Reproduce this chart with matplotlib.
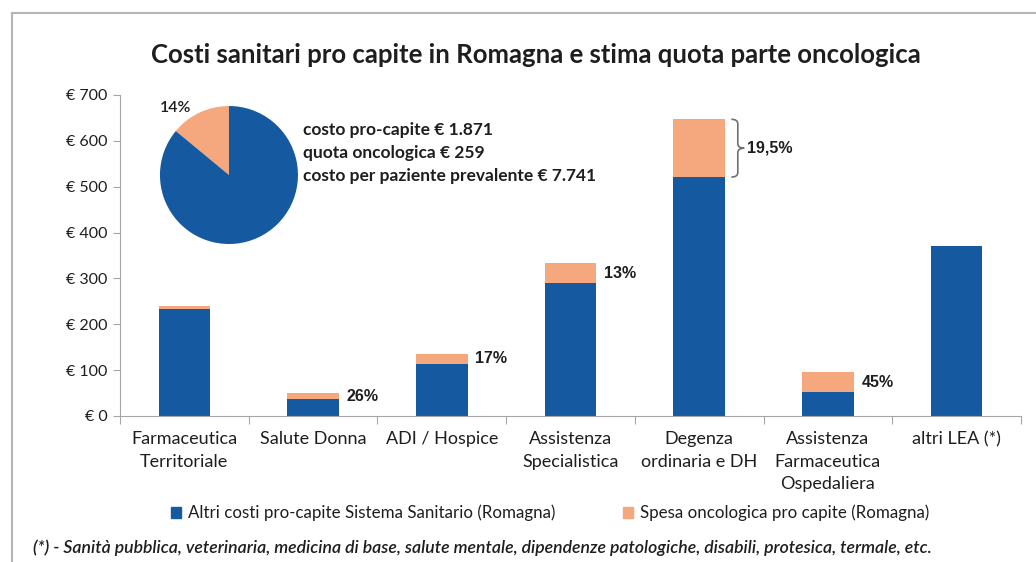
import numpy as np
import matplotlib
matplotlib.use("Agg")
import matplotlib.pyplot as plt
from matplotlib.path import Path
from matplotlib.patches import PathPatch, Patch
from matplotlib.lines import Line2D

plt.rcParams['font.family'] = ['Lato', 'DejaVu Sans']

categories = ['Farmaceutica\nTerritoriale', 'Salute Donna', 'ADI / Hospice',
              'Assistenza\nSpecialistica', 'Degenza\nordinaria e DH',
              'Assistenza\nFarmaceutica\nOspedaliera', 'altri LEA (*)']
altri_costi = [233, 37, 113, 290, 521, 52, 371]
spesa_onco = [6, 13, 23, 43, 126, 43, 0]
pct_labels = ['', '26%', '17%', '13%', '19,5%', '45%', '']
pie_values = [14, 86]
pie_label = '14%'
yticks = [0, 100, 200, 300, 400, 500, 600, 700]
info_lines = ['costo pro-capite € 1.871', 'quota oncologica € 259',
              'costo per paziente prevalente € 7.741']

blue = '#155AA0'
orange = '#F5A77E'
grey = '#A6A6A6'
txt = '#1E1E1E'

fig = plt.figure(figsize=(10.36, 5.62), dpi=100)
ax = fig.add_axes([0.1158, 0.2598, 0.8697, 0.5712])

x = np.arange(len(categories))
w = 0.4
ax.bar(x, altri_costi, w, color=blue, zorder=2)
ax.bar(x, spesa_onco, w, bottom=altri_costi, color=orange, zorder=2)

ax.set_xlim(-0.5, len(categories) - 0.5)
ax.set_ylim(0, 700)
ax.set_yticks(yticks)
ax.set_yticklabels(['€ %d' % v for v in yticks], fontsize=11.5, color=txt)
ax.set_xticks(np.arange(len(categories) + 1) - 0.5)
ax.set_xticklabels([])
ax.set_xticks(x, minor=True)
ax.set_xticklabels(categories, minor=True, fontsize=13, color=txt, linespacing=1.5)
ax.tick_params(axis='x', which='minor', length=0, pad=11)
ax.tick_params(axis='x', which='major', length=6, color=grey, direction='out')
ax.tick_params(axis='y', length=5, color=grey, direction='out', pad=4)
for s in ['top', 'right']:
    ax.spines[s].set_visible(False)
for s in ['left', 'bottom']:
    ax.spines[s].set_color(grey)

# percentage labels
for i, lab in enumerate(pct_labels):
    if not lab:
        continue
    top = altri_costi[i] + spesa_onco[i]
    mid = altri_costi[i] + spesa_onco[i] / 2
    if i == 4:
        x0 = i + w / 2 + 0.05
        x1 = x0 + 0.1
        xm = x0 + 0.05
        bot = altri_costi[i]
        r = 10
        verts = [(x0, top), (xm, top), (xm, top - r),
                 (xm, mid + r),
                 (xm, mid), (x1, mid),
                 (xm, mid), (xm, mid - r),
                 (xm, bot + r),
                 (xm, bot), (x0, bot)]
        codes = [Path.MOVETO, Path.CURVE3, Path.CURVE3,
                 Path.LINETO,
                 Path.CURVE3, Path.CURVE3,
                 Path.CURVE3, Path.CURVE3,
                 Path.LINETO,
                 Path.CURVE3, Path.CURVE3]
        ax.add_patch(PathPatch(Path(verts, codes), fill=False, ec='#707070', lw=1.2))
        ax.text(x1 + 0.02, mid, lab, ha='left', va='center', fontsize=11.5,
                fontweight='bold', color=txt, family='Liberation Sans')
    else:
        ax.text(i + w / 2 + 0.06, mid, lab, ha='left', va='center', fontsize=11.5,
                fontweight='bold', color=txt, family='Liberation Sans')

# pie inset
pax = fig.add_axes([0.1544, 0.5658, 0.1332, 0.2456])
pax.pie(pie_values, colors=[orange, blue], startangle=90, counterclock=True,
        radius=1.0)
pax.set_aspect('equal')
pax.text(-0.78, 0.97, pie_label, ha='center', va='center', fontsize=11.5,
         fontweight='semibold', color=txt)
pax.set_xlim(-1, 1)
pax.set_ylim(-1, 1)

for k, line in enumerate(info_lines):
    fig.text(303 / 1036, 1 - (130 + 23 * k) / 562, line, ha='left', va='center',
             fontsize=12.5, fontweight='bold', color=txt)

fig.text(536 / 1036, 1 - 55 / 562,
         'Costi sanitari pro capite in Romagna e stima quota parte oncologica',
         ha='center', va='center', fontsize=18.5, fontweight='bold', color=txt)

handles = [Patch(color=blue), Patch(color=orange)]
fig.legend(handles, ['Altri costi pro-capite Sistema Sanitario (Romagna)',
                     'Spesa oncologica pro capite (Romagna)'],
           loc='center', bbox_to_anchor=(0.531, 1 - 513 / 562), ncol=2,
           frameon=False, fontsize=12.2, handlelength=0.6, handleheight=0.6,
           handletextpad=0.4, columnspacing=4, labelcolor=txt)

fig.text(482 / 1036, 1 - 548 / 562,
         '(*) - Sanità pubblica, veterinaria, medicina di base, salute mentale, '
         'dipendenze patologiche, disabili, protesica, termale, etc.',
         ha='center', va='center', fontsize=12.7, style='italic',
         fontweight='semibold', color=txt)

# outer frame
fig.add_artist(Line2D([12 / 1036, 1], [1 - 13 / 562, 1 - 13 / 562],
                      transform=fig.transFigure, color='#B5B5B5', lw=1.5))
fig.add_artist(Line2D([12 / 1036, 12 / 1036], [0, 1 - 13 / 562],
                      transform=fig.transFigure, color='#B5B5B5', lw=1.5))

fig.savefig('out.png', dpi=100)
